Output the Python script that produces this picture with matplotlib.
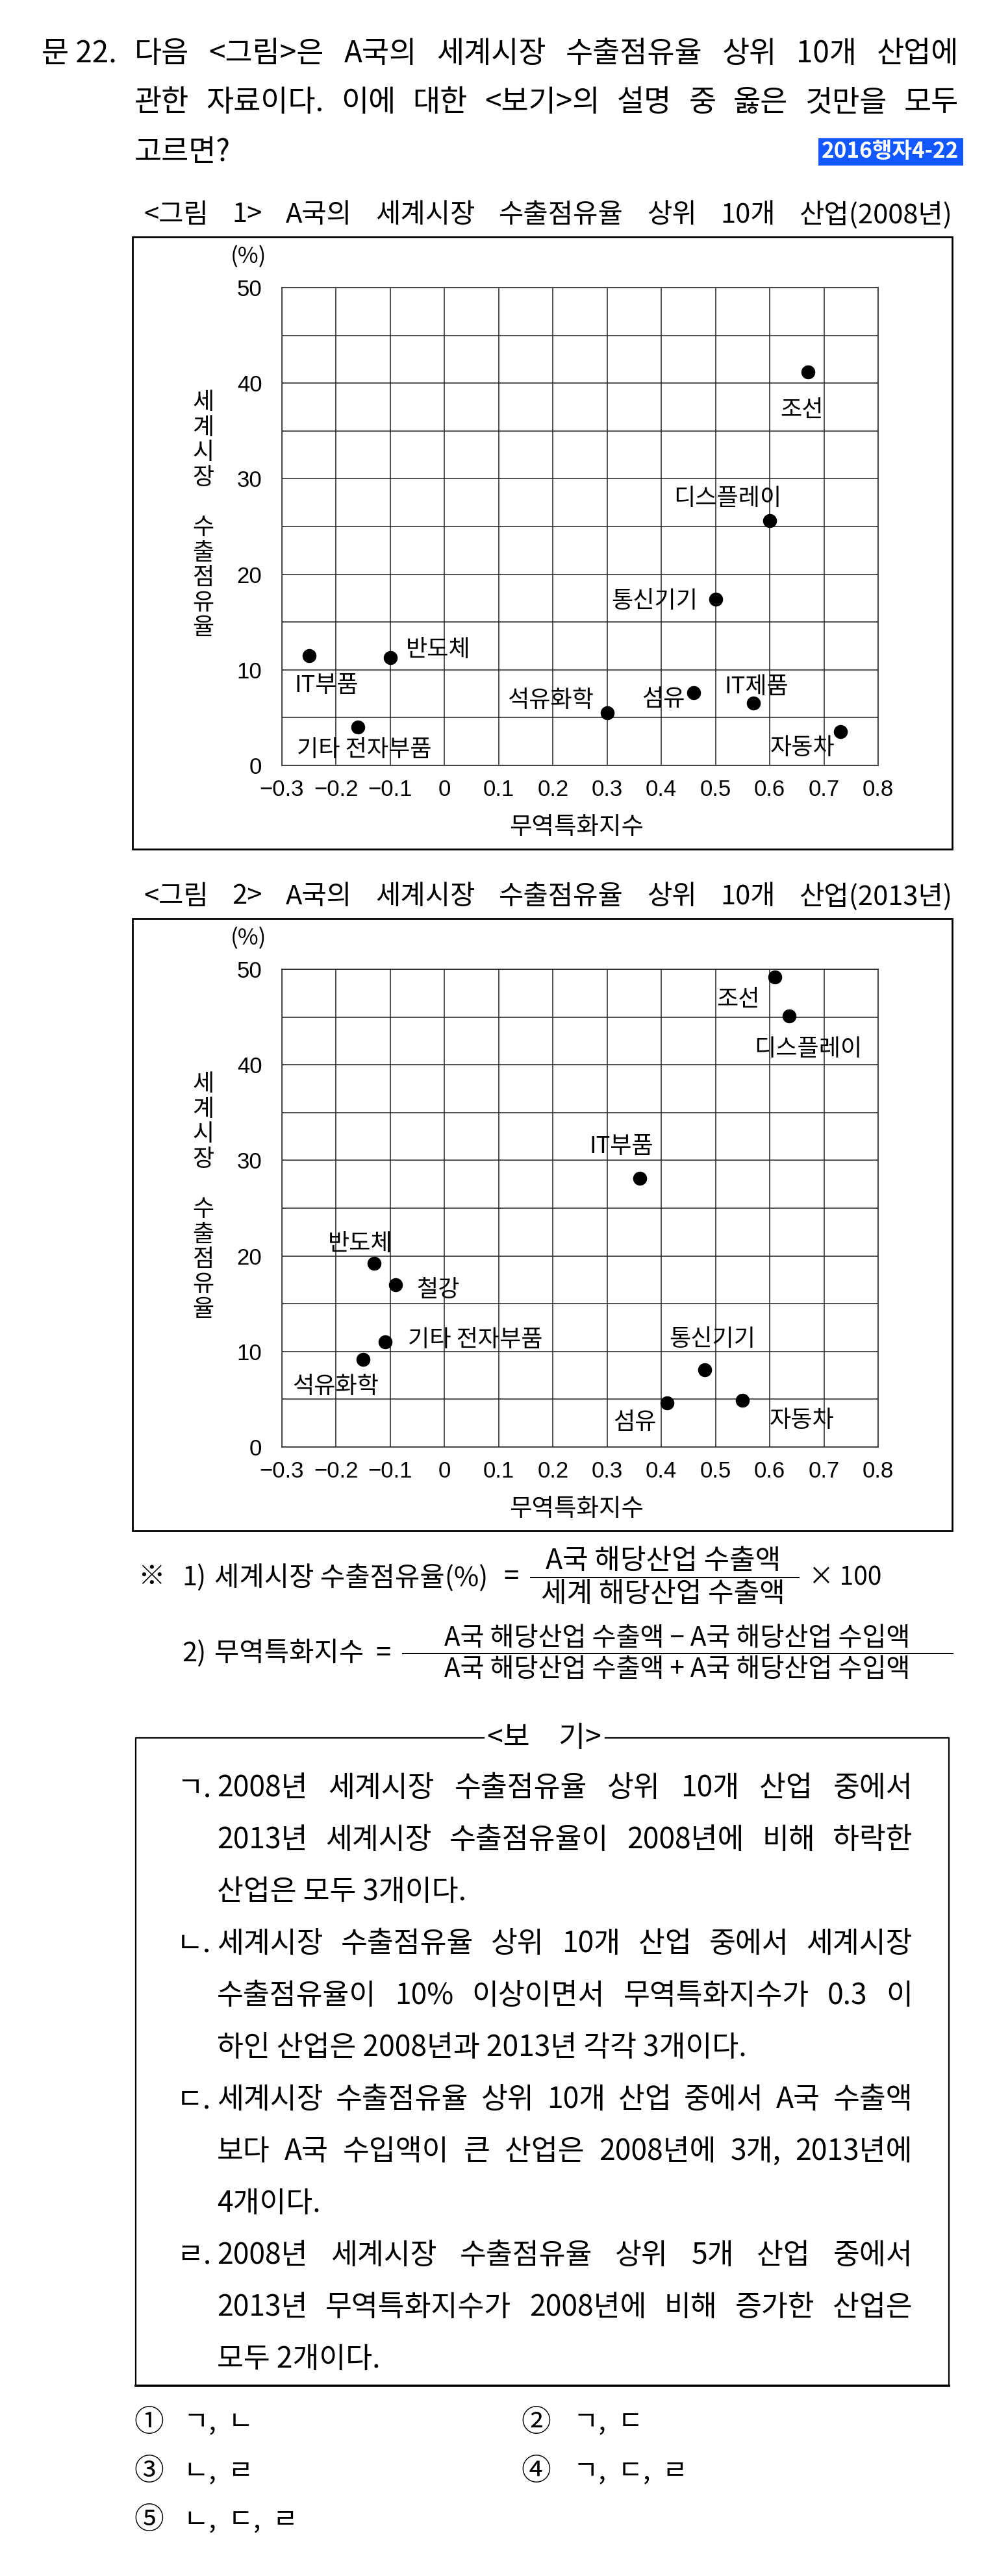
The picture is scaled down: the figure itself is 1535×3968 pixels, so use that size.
import matplotlib
matplotlib.use("Agg")
import matplotlib.pyplot as plt
from matplotlib.patches import Rectangle

W, H = 1535, 3968
KR = ["Noto Sans CJK KR", "DejaVu Sans"]
NUM = ["Liberation Sans", "DejaVu Sans"]

# chart data (trade specialisation index vs. world export share %)
names_2008 = ["IT부품", "반도체", "기타 전자부품", "석유화학", "섬유",
              "통신기기", "IT제품", "디스플레이", "조선", "자동차"]
tsi_2008 = [-0.25, -0.10, -0.16, 0.30, 0.46, 0.50, 0.57, 0.60, 0.67, 0.73]
share_2008 = [11.5, 11.3, 4.0, 5.5, 7.6, 17.4, 6.5, 25.6, 41.2, 3.5]

names_2013 = ["조선", "디스플레이", "IT부품", "반도체", "철강",
              "기타 전자부품", "석유화학", "통신기기", "섬유", "자동차"]
tsi_2013 = [0.61, 0.636, 0.36, -0.13, -0.09, -0.11, -0.15, 0.48, 0.41, 0.55]
share_2013 = [49.2, 45.1, 28.1, 19.2, 17.0, 11.0, 9.2, 8.1, 4.6, 4.9]

x_ticks = [-0.3, -0.2, -0.1, 0.0, 0.1, 0.2, 0.3, 0.4, 0.5, 0.6, 0.7, 0.8]
x_tick_labels = ["−0.3", "−0.2", "−0.1", "0", "0.1", "0.2", "0.3",
                 "0.4", "0.5", "0.6", "0.7", "0.8"]
y_ticks = [0, 10, 20, 30, 40, 50]
y_minor = [5, 15, 25, 35, 45]

# label offsets from the dot, in pixels (dx right, dy down)
offsets_2008 = [(27, 46), (74, -12), (10, 35), (-87, -19), (-47, 10),
                (-94, 3), (5, -25), (-65, -34), (-9, 59), (-58, 25)]
offsets_2013 = [(-57, 35), (29, 51), (-28, -49), (-21, -30), (65, 8),
                (139, -3), (-43, 42), (12, -47), (-49, 30), (91, 31)]

# question text
question_lines = ["다음 <그림>은 A국의 세계시장 수출점유율 상위 10개 산업에",
                  "관한 자료이다. 이에 대한 <보기>의 설명 중 옳은 것만을 모두",
                  "고르면?"]
title_2008 = "<그림 1> A국의 세계시장 수출점유율 상위 10개 산업(2008년)"
title_2013 = "<그림 2> A국의 세계시장 수출점유율 상위 10개 산업(2013년)"

bogi_marks = ["ㄱ.", "ㄴ.", "ㄷ.", "ㄹ."]
bogi_lines = [
    ["2008년 세계시장 수출점유율 상위 10개 산업 중에서",
     "2013년 세계시장 수출점유율이 2008년에 비해 하락한",
     "산업은 모두 3개이다."],
    ["세계시장 수출점유율 상위 10개 산업 중에서 세계시장",
     "수출점유율이 10% 이상이면서 무역특화지수가 0.3 이",
     "하인 산업은 2008년과 2013년 각각 3개이다."],
    ["세계시장 수출점유율 상위 10개 산업 중에서 A국 수출액",
     "보다 A국 수입액이 큰 산업은 2008년에 3개, 2013년에",
     "4개이다."],
    ["2008년 세계시장 수출점유율 상위 5개 산업 중에서",
     "2013년 무역특화지수가 2008년에 비해 증가한 산업은",
     "모두 2개이다."],
]

choice_marks = ["①", "②", "③", "④", "⑤"]
choice_texts = ["ㄱ,  ㄴ", "ㄱ,  ㄷ", "ㄴ,  ㄹ", "ㄱ,  ㄷ,  ㄹ", "ㄴ,  ㄷ,  ㄹ"]


fig = plt.figure(figsize=(W / 100, H / 100), dpi=100)
bg = fig.add_axes([0, 0, 1, 1])
bg.set_xlim(0, W)
bg.set_ylim(H, 0)
bg.axis("off")
renderer = fig.canvas.get_renderer()


def put(x, y, s, size=32, ha="left", **kw):
    return bg.text(x, y, s, fontsize=size, ha=ha, va="center", family=KR, **kw)


def justify(line, x0, x1, y, size=32):
    """Spread the words of a line so it fills x0..x1."""
    words = line.split(" ")
    texts = [put(x0, y, w, size) for w in words]
    widths = [t.get_window_extent(renderer).width for t in texts]
    gap = (x1 - x0 - sum(widths)) / max(len(words) - 1, 1)
    x = x0
    for t, w in zip(texts, widths):
        t.set_x(x)
        x += w + gap


def draw_chart(top, title, names, xs, ys, offsets):
    justify(title, 221, 1466, top - 34, size=30)
    bg.add_patch(Rectangle((204, top), 1262, 943, fill=False, lw=2, ec="black"))
    put(383, top + 31, "(%)", 25, ha="center")
    for k, ch in enumerate("세계시장 수출점유율"):
        put(313, top + 255 + 38.6 * k, ch, 26, ha="center")
    put(888, top + 910, "무역특화지수", 27, ha="center")

    ax = fig.add_axes([434 / W, 1 - (top + 814) / H, 918 / W, 736 / H])
    ax.set_facecolor("none")
    ax.set_xlim(-0.3, 0.8)
    ax.set_ylim(0, 50)
    ax.set_xticks(x_ticks, x_tick_labels)
    ax.set_yticks(y_ticks, [str(v) for v in y_ticks])
    ax.set_yticks(y_minor, minor=True)
    ax.grid(True, which="both", color="#222222", lw=1.1)
    ax.set_axisbelow(True)
    ax.tick_params(which="both", length=0)
    ax.tick_params(axis="x", pad=15, labelsize=25)
    ax.tick_params(axis="y", pad=22, labelsize=25)
    for lab in ax.get_xticklabels() + ax.get_yticklabels():
        lab.set_family(NUM)
    for s in ax.spines.values():
        s.set_linewidth(1.1)
        s.set_color("#222222")

    ax.scatter(xs, ys, s=240, color="black", linewidths=0, zorder=3)
    for name, x, y, (dx, dy) in zip(names, xs, ys, offsets):
        ax.annotate(name, (x, y), xytext=(dx, -dy), textcoords="offset pixels",
                    ha="center", va="center", fontsize=26, family=KR)


# question header
put(64, 83, "문 22.", 33)
justify(question_lines[0], 207, 1476, 83, size=33)
justify(question_lines[1], 207, 1476, 158, size=33)
put(207, 235, question_lines[2], 33)
bg.add_patch(Rectangle((1260, 213), 223, 42, color="#1257ff", lw=0))
put(1371, 234, "2016행자4-22", 24, ha="center", color="white",
    fontweight="bold")

# the two charts
draw_chart(365, title_2008, names_2008, tsi_2008, share_2008, offsets_2008)
draw_chart(1415, title_2013, names_2013, tsi_2013, share_2013, offsets_2013)

# footnote formulas
put(212, 2430, "※", 30)
put(280, 2430, "1)", 30)
put(330, 2430, "세계시장 수출점유율(%)", 30)
put(787, 2430, "=", 30, ha="center")
put(1021, 2405, "A국 해당산업 수출액", 31, ha="center")
bg.plot([817, 1230], [2430, 2430], color="black", lw=1.4)
put(1021, 2456, "세계 해당산업 수출액", 31, ha="center")
put(1245, 2430, "× 100", 28)

put(280, 2547, "2)", 30)
put(330, 2547, "무역특화지수", 30)
put(590, 2547, "=", 30, ha="center")
put(1043, 2523, "A국 해당산업 수출액 − A국 해당산업 수입액", 29, ha="center")
bg.plot([620, 1467], [2547, 2547], color="black", lw=1.4)
put(1043, 2572, "A국 해당산업 수출액 + A국 해당산업 수입액", 29, ha="center")

# <보기> box
bg.plot([745, 209, 209], [2677, 2677, 3675], color="black", lw=1.6)
bg.plot([932, 1461, 1461], [2677, 2677, 3675], color="black", lw=1.6)
bg.plot([209, 1461], [3675, 3675], color="black", lw=2.6)
put(838, 2677, "<보　기>", 32, ha="center")

row = 0
for mark, lines in zip(bogi_marks, bogi_lines):
    put(272, 2754 + 80 * row, mark)
    for k, line in enumerate(lines):
        y = 2754 + 80 * row
        if k < len(lines) - 1:
            justify(line, 334, 1405, y)
        else:
            put(334, y, line)
        row += 1

# answer choices
for k, (mark, txt) in enumerate(zip(choice_marks, choice_texts)):
    col, r = k % 2, k // 2
    y = 3732 + 75 * r
    put(206 + 596 * col, y, mark, 33)
    put(283 + 600 * col, y, txt, 30)

fig.savefig("out.png", dpi=100, facecolor="white")
